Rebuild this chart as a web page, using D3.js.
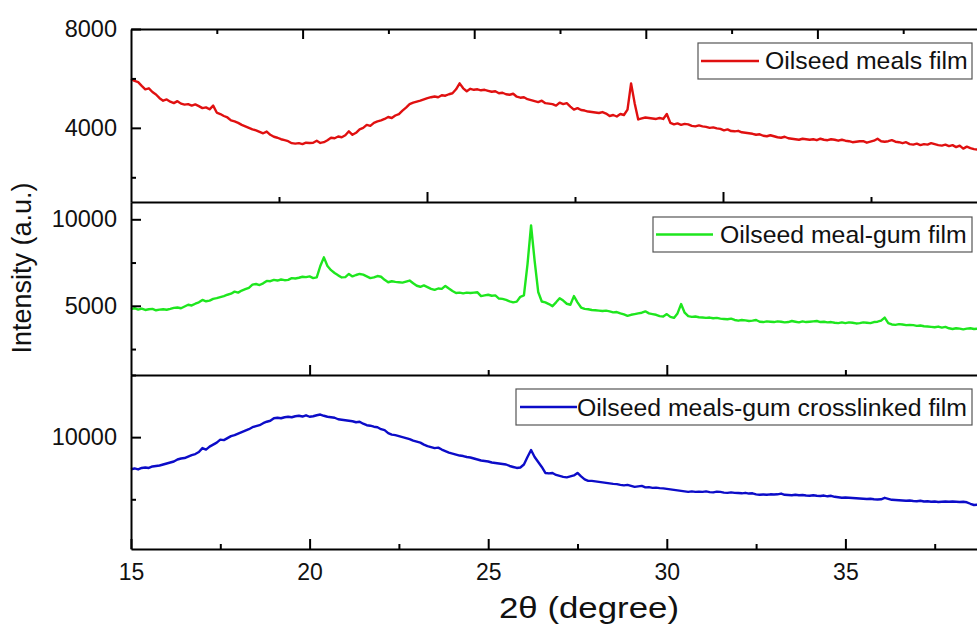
<!DOCTYPE html>
<html>
<head>
<meta charset="utf-8">
<script src="https://cdn.jsdelivr.net/npm/d3@7"></script>
<style>
  body { margin: 0; background: #fff; }
  svg { display: block; font-family: Arial, "Liberation Sans", sans-serif; }
</style>
</head>
<body>
<svg id="chart" width="977" height="636"></svg>
<script>
// 2theta grid: 15.0 .. 38.7 in 0.1 degree steps
const thetaStart = 15
const thetaStep = 0.1

const mealsFilm = [
  5980, 5900, 5850, 5700, 5560, 5600, 5450, 5350, 5200, 5100,
  5150, 5060, 5000, 5080, 4980, 4940, 4960, 4900, 4950, 4880,
  4800, 4830, 4750, 4900, 4620, 4560, 4480, 4420, 4300, 4260,
  4200, 4120, 4060, 4000, 3940, 3900, 3840, 3780, 3850, 3720,
  3640, 3600, 3540, 3500, 3460, 3380, 3360, 3380, 3340, 3400,
  3390, 3400, 3480, 3390, 3420, 3500, 3600, 3580, 3650, 3620,
  3700, 3860, 3720, 3800, 3940, 4000, 4120, 4080, 4200, 4260,
  4300, 4360, 4440, 4400, 4500, 4560, 4700, 4820, 4960, 5020,
  5060, 5100, 5150, 5200, 5240, 5270, 5240, 5320, 5300, 5360,
  5400, 5560, 5800, 5600, 5480, 5580, 5540, 5560, 5520, 5540,
  5500, 5460, 5480, 5400, 5420, 5360, 5340, 5380, 5260, 5220,
  5240, 5160, 5120, 5080, 5040, 5100, 5000, 4980, 4960, 4900,
  5020, 4960, 5000, 4860, 4740, 4800, 4720, 4700, 4660, 4640,
  4620, 4600, 4640, 4580, 4480, 4520, 4460, 4560, 4520, 4740,
  5800, 5000, 4340, 4380, 4420, 4400, 4380, 4360, 4400, 4360,
  4560, 4200, 4140, 4180, 4120, 4160, 4140, 4080, 4060, 4100,
  4060, 4040, 4000, 4020, 3980, 3960, 3900, 3940, 3870, 3860,
  3880, 3820, 3800, 3780, 3760, 3720, 3740, 3680, 3660, 3700,
  3660, 3620, 3600, 3640, 3580, 3560, 3540, 3520, 3560, 3540,
  3520, 3540, 3500, 3560, 3520, 3500, 3540, 3520, 3480, 3520,
  3480, 3460, 3420, 3440, 3460, 3460, 3400, 3440, 3480, 3560,
  3460, 3440, 3460, 3500, 3440, 3420, 3380, 3420, 3340, 3320,
  3360, 3300, 3340, 3320, 3380, 3340, 3300, 3280, 3320, 3260,
  3300, 3220, 3280, 3160, 3240, 3180, 3140, 3120
]

const mealGumFilm = [
  4810, 4860, 4780, 4840, 4760, 4800, 4820, 4740, 4780, 4800,
  4770, 4820, 4880, 4900, 4860, 4960, 5060, 5020, 5120, 5200,
  5340, 5260, 5300, 5400, 5440, 5500, 5560, 5640, 5700, 5820,
  5760, 5880, 5960, 6040, 6220, 6260, 6200, 6300, 6440, 6420,
  6500, 6460, 6520, 6480, 6500, 6600, 6580, 6620, 6680, 6660,
  6700, 6600, 6640, 7300, 7800, 7300, 7060, 6900, 6760, 6640,
  6660, 6840, 6700, 6780, 6840, 6800, 6700, 6600, 6640, 6720,
  6680, 6500, 6360, 6420, 6380, 6360, 6340, 6400, 6460, 6300,
  6160, 6100, 6180, 6080, 5980, 5920, 6000, 5980, 6150, 6000,
  5860, 5740, 5760, 5720, 5760, 5740, 5760, 5780, 5560, 5600,
  5640, 5580, 5600, 5420, 5400, 5340, 5260, 5200, 5240, 5520,
  5600, 7400, 9650, 7600, 5800, 5250, 5200, 5100, 4980, 5200,
  5440, 5300, 5120, 5060, 5560, 5200, 4900, 4820, 4800, 4760,
  4740, 4720, 4700, 4720, 4680, 4620, 4640, 4560, 4500, 4420,
  4480, 4520, 4560, 4600, 4680, 4560, 4520, 4480, 4400, 4380,
  4520, 4360, 4300, 4560, 5100, 4600, 4400, 4360, 4380, 4340,
  4320, 4300, 4320, 4280, 4300, 4260, 4240, 4220, 4260, 4180,
  4140, 4180, 4160, 4120, 4140, 4180, 4080, 4060, 4100, 4080,
  4060, 4100, 4080, 4040, 4060, 4120, 4080, 4040, 4100, 4060,
  4080, 4100, 4120, 4060, 4080, 4040, 4060, 4020, 4000, 4040,
  4000, 4040, 4020, 3980, 4000, 4040, 4020, 4000, 4060, 4080,
  4140, 4320, 4000, 3920, 3900, 3940, 3920, 3880, 3900, 3880,
  3840, 3860, 3820, 3800, 3780, 3760, 3800, 3740, 3780, 3700,
  3660, 3700, 3680, 3640, 3680, 3700, 3660, 3680
]

const crosslinkedFilm = [
  8710, 8740, 8700, 8760, 8780, 8760, 8820, 8840, 8860, 8900,
  8940, 8980, 9020, 9100, 9140, 9160, 9220, 9280, 9320, 9400,
  9560, 9500, 9620, 9700, 9780, 9900, 9880, 9960, 10040, 10080,
  10140, 10200, 10260, 10320, 10400, 10440, 10480, 10560, 10620, 10660,
  10760, 10780, 10760, 10800, 10820, 10800, 10840, 10860, 10830, 10880,
  10820, 10840, 10880, 10910, 10860, 10820, 10800, 10780, 10720, 10700,
  10680, 10660, 10640, 10600, 10620, 10540, 10480, 10460, 10420, 10400,
  10320, 10280, 10160, 10100, 10080, 10040, 10000, 9960, 9920, 9860,
  9820, 9780, 9700, 9640, 9600, 9560, 9580, 9500, 9440, 9380,
  9340, 9300, 9260, 9240, 9200, 9180, 9140, 9100, 9060, 9040,
  9020, 8980, 8960, 8940, 8920, 8900, 8840, 8800, 8760, 8780,
  8900, 9200, 9480, 9200, 9000, 8800, 8560, 8540, 8560, 8480,
  8440, 8400, 8380, 8420, 8460, 8560, 8420, 8300, 8240, 8240,
  8220, 8200, 8180, 8160, 8140, 8120, 8110, 8080, 8060, 8080,
  8040, 8000, 8020, 8040, 7980, 7990, 7960, 7970, 7950, 7940,
  7920, 7900, 7880, 7860, 7840, 7820, 7800, 7820, 7800, 7810,
  7800, 7820, 7790, 7780, 7810, 7800, 7770, 7760, 7780, 7760,
  7750, 7740, 7760, 7730, 7740, 7700, 7680, 7690, 7680, 7700,
  7690, 7700, 7730, 7680, 7670, 7660, 7680, 7660, 7670, 7650,
  7640, 7660, 7640, 7630, 7650, 7620, 7640, 7600, 7580, 7560,
  7570, 7560, 7550, 7540, 7530, 7520, 7510, 7520, 7500, 7490,
  7500, 7560, 7520, 7480, 7470, 7460, 7450, 7440, 7450, 7430,
  7420, 7440, 7410, 7420, 7400, 7410, 7390, 7400, 7410, 7400,
  7410, 7400, 7390, 7400, 7380, 7320, 7270, 7280
]

const xTickLabels = [15, 20, 25, 30, 35]
const xMinorTicks = [17.5, 22.5, 27.5, 32.5, 37.5]

const yTicksTop = [4000, 8000]
const yMinorTop = [2000, 6000]
const yTicksMid = [5000, 10000]
const yMinorMid = [2500, 7500]
const yTicksBottom = [10000]
const yMinorBottom = [7500, 12500]

const seriesNames = ['Oilseed meals film', 'Oilseed meal-gum film', 'Oilseed meals-gum crosslinked film']

const svg = d3.select('#chart')
const left = 131
const right = 1024

const x = d3.scaleLinear().domain([15, 40]).range([left, right])

const panels = [
  { values: mealsFilm, name: seriesNames[0], color: '#e01010', top: 29, bottom: 202,
    domain: [1000, 8000], major: yTicksTop, minor: yMinorTop,
    legend: { x: 698, y: 43, w: 274, h: 36, lx1: 701, lx2: 759, tx: 765, ty: 69 } },
  { values: mealGumFilm, name: seriesNames[1], color: '#1ee61e', top: 202, bottom: 375,
    domain: [1000, 11000], major: yTicksMid, minor: yMinorMid,
    legend: { x: 653, y: 217, w: 319, h: 35, lx1: 656, lx2: 713, tx: 720, ty: 243 } },
  { values: crosslinkedFilm, name: seriesNames[2], color: '#0c0cc8', top: 375, bottom: 549,
    domain: [5500, 12500], major: yTicksBottom, minor: yMinorBottom,
    legend: { x: 516, y: 389, w: 456, h: 36, lx1: 520, lx2: 577, tx: 577, ty: 416 } }
]

const thick = g => g.selectAll('path, line').attr('stroke', '#000').attr('stroke-width', 2)

panels.forEach(p => {
  const y = d3.scaleLinear().domain(p.domain).range([p.bottom, p.top])
  const pts = p.values.map((v, i) => [thetaStart + i * thetaStep, v])

  svg.append('path')
    .datum(pts)
    .attr('fill', 'none')
    .attr('stroke', p.color)
    .attr('stroke-width', 2.4)
    .attr('stroke-linejoin', 'round')
    .attr('d', d3.line().x(d => x(d[0])).y(d => y(d[1])))

  // left axis, ticks pointing inward
  svg.append('g')
    .attr('transform', `translate(${left},0)`)
    .call(d3.axisLeft(y).tickValues(p.major).tickSize(-10).tickSizeOuter(0).tickPadding(14).tickFormat(d3.format('d')))
    .call(thick)
    .call(g => g.selectAll('text').attr('font-size', 23.5).attr('fill', '#111').attr('font-family', 'Arial, "Liberation Sans", sans-serif'))

  svg.append('g')
    .attr('transform', `translate(${left},0)`)
    .call(d3.axisLeft(y).tickValues(p.minor).tickSize(-5).tickSizeOuter(0).tickFormat(''))
    .call(thick)
    .call(g => g.select('.domain').remove())

  // legend
  const L = p.legend
  const lg = svg.append('g')
  lg.append('rect')
    .attr('x', L.x).attr('y', L.y).attr('width', L.w).attr('height', L.h)
    .attr('fill', '#fff').attr('stroke', '#555').attr('stroke-width', 1.2)
  lg.append('line')
    .attr('x1', L.lx1).attr('x2', L.lx2).attr('y1', L.y + L.h / 2).attr('y2', L.y + L.h / 2)
    .attr('stroke', p.color).attr('stroke-width', 2.5)
  lg.append('text')
    .attr('x', L.tx).attr('y', L.ty)
    .attr('font-size', 24.8).attr('fill', '#111')
    .text(p.name)
})

// frame edges; the separate panels carry their own tick spacing on the shared borders
const topEdge = d3.scaleLinear().domain([15, 40]).range([left, 989])
const topMidEdge = d3.scaleLinear().domain([15, 30]).range([left, 1019])

const edge = (scale, yPos, axisFn, major, minor) => {
  svg.append('g')
    .attr('transform', `translate(0,${yPos})`)
    .call(axisFn(scale).tickValues(major).tickSize(10).tickSizeOuter(0).tickFormat(''))
    .call(thick)
  svg.append('g')
    .attr('transform', `translate(0,${yPos})`)
    .call(axisFn(scale).tickValues(minor).tickSize(5).tickSizeOuter(0).tickFormat(''))
    .call(thick)
    .call(g => g.select('.domain').remove())
}

edge(topEdge, 29, d3.axisBottom, [20, 25, 30, 35, 40], [17.5, 22.5, 27.5, 32.5, 37.5])
edge(topMidEdge, 202, d3.axisTop, [20, 25], [17.5, 22.5, 27.5])
edge(x, 375, d3.axisTop, [20, 30], [25, 35])

// bottom x axis with labels
svg.append('g')
  .attr('transform', 'translate(0,549)')
  .call(d3.axisBottom(x).tickValues(xTickLabels).tickSize(-10).tickSizeOuter(0).tickPadding(15))
  .call(thick)
  .call(g => g.selectAll('text').attr('font-size', 23).attr('fill', '#111').attr('font-family', 'Arial, "Liberation Sans", sans-serif'))
svg.append('g')
  .attr('transform', 'translate(0,549)')
  .call(d3.axisBottom(x).tickValues(xMinorTicks).tickSize(-5).tickSizeOuter(0).tickFormat(''))
  .call(thick)
  .call(g => g.select('.domain').remove())

// axis titles
svg.append('text')
  .attr('x', 499).attr('y', 618)
  .attr('font-size', 30).attr('fill', '#111')
  .attr('textLength', 180).attr('lengthAdjust', 'spacingAndGlyphs')
  .text('2\u03B8 (degree)')

svg.append('text')
  .attr('transform', 'translate(31,268) rotate(-90)')
  .attr('text-anchor', 'middle')
  .attr('font-size', 27).attr('fill', '#111')
  .text('Intensity (a.u.)')
</script>
</body>
</html>
